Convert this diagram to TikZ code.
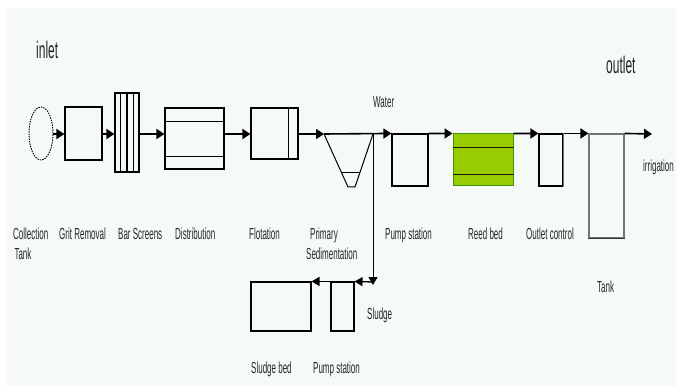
\documentclass[tikz,border=0pt]{standalone}
\usepackage{fontspec}
\setmainfont{Liberation Sans}
\usetikzlibrary{arrows.meta,shapes.geometric,calc}
\definecolor{panel}{RGB}{245,250,247}
\definecolor{reedgreen}{RGB}{153,204,0}
\definecolor{reededge}{RGB}{60,150,20}
\definecolor{tankgray}{RGB}{115,115,115}
\newcommand{\cond}[2][16]{\scalebox{0.5}[1]{\fontsize{#1}{20}\selectfont #2}}
\tikzset{
  box/.style={draw, line width=1.1pt, inner sep=0pt, rectangle},
  flowarrow/.style={line width=1.6pt, -{Triangle[length=8pt,width=10pt]}},
  inner/.style={line width=1.1pt},
  lbl/.style={anchor=base west, inner sep=0pt, text=black!85},
}
\begin{document}
\begin{tikzpicture}[x=1pt,y=-1pt]
\useasboundingbox (0,0) rectangle (676,387);
\fill[panel] (7,8) rectangle (676,386);
\coordinate (flow) at (0,134);

% upper process boxes
\node[draw, ellipse, line width=0.9pt, dash pattern=on 1.5pt off 1pt, inner sep=0pt,
      minimum width=24pt, minimum height=53pt] (ct) at (41,133.5) {};
\node[box, minimum width=37pt, minimum height=53pt] (grit) at (83.5,133.5) {};
\node[box, minimum width=24pt, minimum height=79pt] (bar) at (127,132.5) {};
\foreach \i in {1,2,3}
  \draw[inner] ($(bar.north west)!\i/4!(bar.north east)$) -- ($(bar.south west)!\i/4!(bar.south east)$);
\node[box, minimum width=59pt, minimum height=61pt] (dist) at (194.5,138.5) {};
\draw[inner] ($(dist.north west)!0.23!(dist.south west)$) -- ($(dist.north east)!0.23!(dist.south east)$);
\draw[inner] ($(dist.north west)!0.79!(dist.south west)$) -- ($(dist.north east)!0.79!(dist.south east)$);
\node[box, minimum width=47pt, minimum height=51pt] (flot) at (274.5,133.5) {};
\draw[inner] ($(flot.north west)!0.787!(flot.north east)$) -- ($(flot.south west)!0.787!(flot.south east)$);

% primary sedimentation funnel
\coordinate (sedL) at (324,134);
\coordinate (sedR) at (373,134);
\draw[line width=1pt] (sedL) -- (348,187) -- (355,187) -- (sedR);
\draw[line width=1pt] (342,173) -- (360,173);

\node[box, minimum width=36pt, minimum height=52pt] (pump1) at (410,160) {};
\node[rectangle, draw=reededge, fill=reedgreen, line width=1pt, inner sep=0pt,
      minimum width=60pt, minimum height=52pt] (reed) at (483,160) {};
\draw[inner, black!90] ($(reed.north west)!0.27!(reed.south west)$) -- ($(reed.north east)!0.27!(reed.south east)$);
\draw[inner, black!90] ($(reed.north west)!0.77!(reed.south west)$) -- ($(reed.north east)!0.77!(reed.south east)$);
\node[box, minimum width=24pt, minimum height=52pt] (outc) at (551,160) {};
\draw[line width=1.1pt, tankgray] (outc.north east) -- (outc.south east);
\node[box, draw=tankgray, minimum width=35pt, minimum height=104pt] (tank) at (606.5,186) {};
\draw[line width=1.1pt, black!80] (tank.south west) -- (tank.south east);
\coordinate (irr) at (652,134);

% lower boxes
\node[box, minimum width=23pt, minimum height=49pt] (pump2) at (342.5,306.5) {};
\node[box, minimum width=60pt, minimum height=49pt] (sbed) at (281,306.5) {};
\coordinate (corner) at (373,282);

% flow connectors
\draw[flowarrow] (ct.east |- flow) -- (grit.west |- flow);
\draw[flowarrow] (grit.east |- flow) -- (bar.west |- flow);
\draw[flowarrow] (bar.east |- flow) -- (dist.west |- flow);
\draw[flowarrow] (dist.east |- flow) -- (flot.west |- flow);
\draw[flowarrow] (flot.east |- flow) -- (sedL);
\draw[flowarrow] (sedL) -- (pump1.north west);
\draw[flowarrow] (pump1.north east) -- (reed.north west);
\draw[flowarrow] (reed.north east) -- (outc.north west);
\draw[flowarrow] (outc.north east) -- (tank.north west);
\draw[flowarrow] (tank.north east) -- (irr);
\draw[line width=1pt, -{Triangle[length=8pt,width=9pt]}] (sedR) -- ([yshift=-3pt]corner);
\draw[line width=1.3pt, -{Triangle[length=8pt,width=9pt]}] (corner) -- (pump2.north east);
\draw[line width=1.3pt, -{Triangle[length=8pt,width=9pt]}] (pump2.north west) -- (sbed.north east);

% labels
\node[lbl] (tinlet) at (36,59) {\cond[24]{inlet}};
\node[lbl] (toutlet) at (606,74) {\cond[24]{outlet}};
\node[lbl] (twater) at (373,108) {\cond{Water}};
\node[lbl] (tct) at (13,239) {\cond{\begin{tabular}[t]{@{}l@{}}Collection\\\,Tank\end{tabular}}};
\node[lbl] (tgrit) at (59,239) {\cond{Grit Removal}};
\node[lbl] (tbar) at (118,239) {\cond{Bar Screens}};
\node[lbl] (tdist) at (175,239) {\cond{Distribution}};
\node[lbl] (tflot) at (249,239) {\cond{Flotation}};
\node[lbl] (tsed) at (306,239) {\cond{\begin{tabular}[t]{@{}l@{}}\hspace{8pt}Primary\\Sedimentation\end{tabular}}};
\node[lbl] (tpump1) at (385,239) {\cond{Pump station}};
\node[lbl] (treed) at (468,239) {\cond{Reed bed}};
\node[lbl] (toutc) at (526,239) {\cond{Outlet control}};
\node[lbl] (tirr) at (643,172) {\cond{irrigation}};
\node[lbl] (ttank) at (597,292) {\cond{Tank}};
\node[lbl] (tsludge) at (367,319) {\cond{Sludge}};
\node[lbl] (tsbed) at (251,373) {\cond{Sludge bed}};
\node[lbl] (tpump2) at (313,373) {\cond{Pump station}};
\end{tikzpicture}
\end{document}
